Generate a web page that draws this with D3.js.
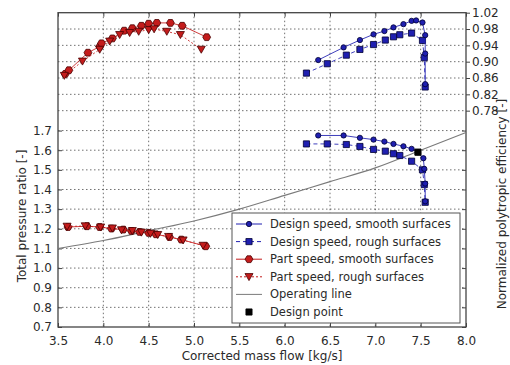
<!DOCTYPE html>
<html><head><meta charset="utf-8">
<script src="https://cdn.jsdelivr.net/npm/d3@7"></script>
<style>body{margin:0;background:#fff}svg{display:block;font-family:"DejaVu Sans",sans-serif}</style>
</head><body><svg id="c" width="510" height="365"></svg>
<script>
// ---- data ----
const xTicks = [3.5,4.0,4.5,5.0,5.5,6.0,6.5,7.0,7.5,8.0];
const prTicks = [0.7,0.8,0.9,1.0,1.1,1.2,1.3,1.4,1.5,1.6,1.7];
const effTicks = [0.78,0.82,0.86,0.90,0.94,0.98,1.02];

const dsSmoothPrX = [6.37,6.65,6.83,6.98,7.10,7.20,7.31,7.40,7.47,7.53,7.54,7.55,7.55];
const dsSmoothPrY = [1.675,1.675,1.663,1.654,1.644,1.632,1.620,1.607,1.590,1.559,1.505,1.430,1.340];
const dsRoughPrX = [6.24,6.47,6.68,6.83,6.98,7.11,7.20,7.27,7.40,7.52,7.54,7.55];
const dsRoughPrY = [1.632,1.632,1.629,1.619,1.604,1.595,1.582,1.573,1.544,1.500,1.425,1.335];
const dsSmoothEffX = [6.37,6.65,6.83,6.98,7.10,7.20,7.31,7.40,7.45,7.52,7.55,7.55,7.55];
const dsSmoothEffY = [0.904,0.935,0.953,0.967,0.975,0.984,0.992,1.000,1.001,0.996,0.965,0.920,0.845];
const dsRoughEffX = [6.24,6.47,6.68,6.83,6.98,7.11,7.20,7.27,7.40,7.52,7.54,7.55];
const dsRoughEffY = [0.872,0.895,0.916,0.930,0.942,0.953,0.961,0.966,0.970,0.952,0.910,0.838];

const psSmoothPrX = [3.61,3.82,3.96,4.09,4.22,4.31,4.40,4.50,4.58,4.73,4.86,5.13];
const psSmoothPrY = [1.209,1.213,1.209,1.201,1.196,1.189,1.184,1.179,1.172,1.158,1.145,1.111];
const psRoughPrX = [3.60,3.80,3.97,4.10,4.20,4.32,4.42,4.52,4.60,4.72,4.88,5.10];
const psRoughPrY = [1.212,1.214,1.208,1.203,1.194,1.190,1.182,1.176,1.170,1.160,1.142,1.115];
const psSmoothEffX = [3.58,3.62,3.83,3.96,3.98,4.10,4.23,4.32,4.42,4.50,4.59,4.74,4.87,5.14];
const psSmoothEffY = [0.870,0.879,0.922,0.937,0.945,0.957,0.976,0.982,0.988,0.993,0.995,0.995,0.988,0.960];
const psRoughEffX = [3.57,3.77,3.96,4.07,4.18,4.29,4.39,4.50,4.56,4.70,4.85,5.08];
const psRoughEffY = [0.866,0.901,0.930,0.950,0.966,0.971,0.974,0.978,0.980,0.974,0.966,0.930];

const opLineX = [3.5,4.0,4.5,5.0,5.5,6.0,6.5,7.0,7.5,8.0];
const opLineY = [1.10,1.14,1.19,1.24,1.30,1.37,1.44,1.51,1.60,1.69];
const designPointX = [7.47];
const designPointY = [1.590];

const legendLabels = ["Design speed, smooth surfaces","Design speed, rough surfaces","Part speed, smooth surfaces","Part speed, rough surfaces","Operating line","Design point"];

// ---- layout ----
const svg = d3.select("#c");
const L = 58, R = 466, T = 12.7, B = 327;
const x = d3.scaleLinear().domain([3.5,8.0]).range([L,R]);
const yL = d3.scaleLinear().domain([0.7,2.3]).range([B,T]);
const yR = d3.scaleLinear().domain([0.25,1.02]).range([B,T]);

const BLUE = "#1f1fb0", BLUE_EDGE = "#000033", RED = "#c41c1c", RED_EDGE = "#4a0000", TXT = "#2a2a2a";

// grid
const g = svg.append("g");
g.selectAll(".vg").data(xTicks.slice(1,-1)).join("line")
  .attr("x1",d=>x(d)).attr("x2",d=>x(d)).attr("y1",T).attr("y2",B)
  .attr("stroke","#333").attr("stroke-width",0.7).attr("stroke-dasharray","1.5,2.5");
g.selectAll(".hg").data(prTicks.slice(1)).join("line")
  .attr("x1",L).attr("x2",R).attr("y1",d=>yL(d)).attr("y2",d=>yL(d))
  .attr("stroke","#333").attr("stroke-width",0.7).attr("stroke-dasharray","1.5,2.5");
g.selectAll(".hg2").data(effTicks.slice(0,-1)).join("line")
  .attr("x1",L).attr("x2",R).attr("y1",d=>yR(d)).attr("y2",d=>yR(d))
  .attr("stroke","#333").attr("stroke-width",0.7).attr("stroke-dasharray","1.5,2.5");

// axes
const fmt1 = d3.format(".1f"), fmt2 = d3.format(".2f");
const axB = svg.append("g").attr("transform",`translate(0,${B})`)
  .call(d3.axisBottom(x).tickValues(xTicks).tickFormat(fmt1).tickSizeInner(-4).tickSizeOuter(0).tickPadding(9));
const axL = svg.append("g").attr("transform",`translate(${L},0)`)
  .call(d3.axisLeft(yL).tickValues(prTicks).tickFormat(fmt1).tickSizeInner(-4).tickSizeOuter(0).tickPadding(6));
const axR = svg.append("g").attr("transform",`translate(${R},0)`)
  .call(d3.axisRight(yR).tickValues(effTicks).tickFormat(fmt2).tickSizeInner(4).tickSizeOuter(0).tickPadding(2));
const axT = svg.append("g").attr("transform",`translate(0,${T})`)
  .call(d3.axisTop(x).tickValues(xTicks).tickFormat("").tickSizeInner(-4).tickSizeOuter(0));
const axLR = svg.append("g").attr("transform",`translate(${R},0)`)
  .call(d3.axisRight(yL).tickValues(prTicks).tickFormat("").tickSizeInner(-4).tickSizeOuter(0));
[axB,axL,axR,axT,axLR].forEach(a=>{
  a.select(".domain").remove();
  a.selectAll("line").attr("stroke","#444");
  a.selectAll("text").attr("fill",TXT).style("font-size","12px").style("font-family","DejaVu Sans");
});
svg.append("rect").attr("x",L).attr("y",T).attr("width",R-L).attr("height",B-T)
  .attr("fill","none").attr("stroke","#444").attr("stroke-width",1.3);

// axis labels
svg.append("text").attr("x",262).attr("y",360).attr("text-anchor","middle")
  .attr("fill",TXT).style("font-size","12px").text("Corrected mass flow [kg/s]");
svg.append("text").attr("transform","translate(26,216) rotate(-90)").attr("text-anchor","middle")
  .attr("fill",TXT).style("font-size","12px").text("Total pressure ratio [-]");
svg.append("text").attr("transform","translate(505.5,204) rotate(-90)").attr("text-anchor","middle")
  .attr("fill",TXT).style("font-size","12px").text("Normalized polytropic efficiency [-]");

// operating line
const zip = (a,b)=>a.map((v,i)=>[v,b[i]]);
const lineL = d3.line().x(d=>x(d[0])).y(d=>yL(d[1])).curve(d3.curveMonotoneX);
svg.append("path").datum(zip(opLineX,opLineY)).attr("d",lineL)
  .attr("fill","none").attr("stroke","#7a7a7a").attr("stroke-width",1.1);

// markers
const sym = {
  circle: d3.symbol().type(d3.symbolCircle).size(22),
  square: d3.symbol().type(d3.symbolSquare).size(38),
  hex: d3.symbol().type({draw(ctx,size){const r=Math.sqrt(size/2.598);for(let i=0;i<6;i++){const a=Math.PI/3*i+Math.PI/6;const px=r*Math.sin(a),py=-r*Math.cos(a);i?ctx.lineTo(px,py):ctx.moveTo(px,py);}ctx.closePath();}}).size(40),
  tri: d3.symbol().type({draw(ctx,size){const s=Math.sqrt(size*2.3)/2;ctx.moveTo(-s,-s*0.8);ctx.lineTo(s,-s*0.8);ctx.lineTo(0,s*0.95);ctx.closePath();}}).size(28)
};

function series(xs, ys, scale, color, edge, dash, marker){
  const data = zip(xs,ys);
  const ln = d3.line().x(d=>x(d[0])).y(d=>scale(d[1]));
  const grp = svg.append("g");
  grp.append("path").datum(data).attr("d",ln).attr("fill","none")
    .attr("stroke",color).attr("stroke-width",1).attr("stroke-opacity",0.85)
    .attr("stroke-dasharray",dash);
  grp.selectAll("path.m").data(data).join("path").attr("class","m")
    .attr("transform",d=>`translate(${x(d[0])},${scale(d[1])})`)
    .attr("d",sym[marker]).attr("fill",color).attr("stroke",edge).attr("stroke-width",0.8);
}
series(psSmoothEffX, psSmoothEffY, yR, RED, RED_EDGE, null, "hex");
series(psRoughEffX, psRoughEffY, yR, RED, RED_EDGE, "2,2", "tri");
series(psSmoothPrX, psSmoothPrY, yL, RED, RED_EDGE, null, "hex");
series(psRoughPrX, psRoughPrY, yL, RED, RED_EDGE, "2,2", "tri");
series(dsRoughEffX, dsRoughEffY, yR, BLUE, BLUE_EDGE, "4,3", "square");
series(dsSmoothEffX, dsSmoothEffY, yR, BLUE, BLUE_EDGE, null, "circle");
series(dsRoughPrX, dsRoughPrY, yL, BLUE, BLUE_EDGE, "4,3", "square");
series(dsSmoothPrX, dsSmoothPrY, yL, BLUE, BLUE_EDGE, null, "circle");
svg.selectAll("path.dp").data(zip(designPointX,designPointY)).join("path").attr("class","dp")
  .attr("transform",d=>`translate(${x(d[0])},${yL(d[1])})`)
  .attr("d",sym.square).attr("fill","#000").attr("stroke","#000");

// legend
const lg = svg.append("g");
lg.append("rect").attr("x",232).attr("y",213).attr("width",228).attr("height",110)
  .attr("fill","#fff").attr("stroke","#555").attr("stroke-width",1);
const styles = [
  {c:BLUE,e:BLUE_EDGE,dash:null,m:"circle",line:true},
  {c:BLUE,e:BLUE_EDGE,dash:"4,3",m:"square",line:true},
  {c:RED,e:RED_EDGE,dash:null,m:"hex",line:true},
  {c:RED,e:RED_EDGE,dash:"2,2",m:"tri",line:true},
  {c:"#7a7a7a",e:null,dash:null,m:null,line:true},
  {c:"#000",e:"#000",dash:null,m:"square",line:false}
];
legendLabels.forEach((t,i)=>{
  const yy = 224 + i*17.6;
  const s = styles[i];
  if(s.line) lg.append("line").attr("x1",236).attr("x2",262).attr("y1",yy).attr("y2",yy)
    .attr("stroke",s.c).attr("stroke-width",1).attr("stroke-dasharray",s.dash);
  if(s.m) lg.append("path").attr("transform",`translate(249,${yy})`).attr("d",sym[s.m])
    .attr("fill",s.c).attr("stroke",s.e).attr("stroke-width",0.8);
  lg.append("text").attr("x",270).attr("y",yy+4).attr("fill",TXT)
    .style("font-size","11.5px").text(t);
});
</script></body></html>
